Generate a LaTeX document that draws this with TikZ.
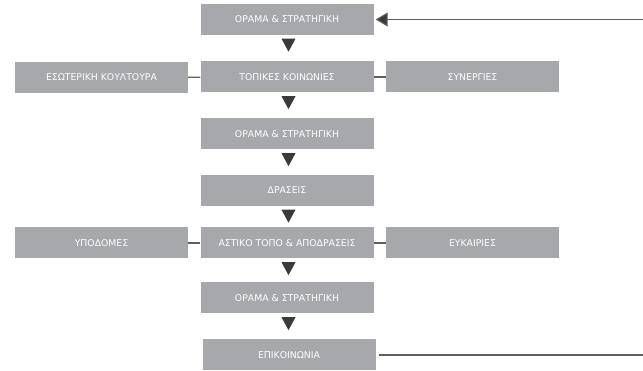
\documentclass[tikz,border=0pt]{standalone}
\usepackage{fontspec}
\setmainfont{DejaVu Sans}
\usetikzlibrary{calc,arrows.meta}
\definecolor{boxgray}{RGB}{167,168,171}
\definecolor{tridark}{RGB}{58,58,60}
\definecolor{linegray}{RGB}{95,95,98}
\tikzset{
  stage/.style={fill=boxgray, text=white, minimum width=173pt, minimum height=31pt,
    inner sep=0pt, font=\fontsize{9.3}{10}\selectfont},
  link/.style={draw=linegray, line width=1.1pt},
  downtri/.style={fill=tridark},
}
\newcommand{\downarrowmark}[1]{%
  \fill[downtri] ($(#1.south)+(-5.5,3.5)$) -- ++(14,0) -- ++(-7,13) -- cycle;}
\begin{document}
\begin{tikzpicture}[x=1pt,y=-1pt]
  \useasboundingbox (0,0) rectangle (643,371);
  % central chain
  \node[stage] (vision1) at (287,19.5) {ΟΡΑΜΑ \& ΣΤΡΑΤΗΓΙΚΗ};
  \node[stage] (local) at (287,77) {ΤΟΠΙΚΕΣ ΚΟΙΝΩΝΙΕΣ};
  \node[stage] (vision2) at (287,134) {ΟΡΑΜΑ \& ΣΤΡΑΤΗΓΙΚΗ};
  \node[stage] (actions) at (287,190.5) {ΔΡΑΣΕΙΣ};
  \node[stage] (urban) at (287,243) {ΑΣΤΙΚΟ ΤΟΠΟ \& ΑΠΟΔΡΑΣΕΙΣ};
  \node[stage] (vision3) at (287,298) {ΟΡΑΜΑ \& ΣΤΡΑΤΗΓΙΚΗ};
  \node[stage] (comm) at (289,355) {ΕΠΙΚΟΙΝΩΝΙΑ};
  % side boxes
  \node[stage] (culture) at (101.5,77.5) {ΕΣΩΤΕΡΙΚΗ ΚΟΥΛΤΟΥΡΑ};
  \node[stage] (synergy) at (472.5,77) {ΣΥΝΕΡΓΙΕΣ};
  \node[stage] (infra) at (101.5,243) {ΥΠΟΔΟΜΕΣ};
  \node[stage] (chance) at (472.5,243) {ΕΥΚΑΙΡΙΕΣ};
  % side links
  \draw[link] (culture) -- (local);
  \draw[link] (local) -- (synergy);
  \draw[link] (infra) -- (urban);
  \draw[link] (urban) -- (chance);
  % flow markers
  \downarrowmark{vision1}
  \downarrowmark{local}
  \downarrowmark{vision2}
  \downarrowmark{actions}
  \downarrowmark{urban}
  \downarrowmark{vision3}
  % feedback loop
  \coordinate (loopin) at (643,19.5);
  \coordinate (loopout) at (643,355);
  \draw[link, -{Triangle[length=12pt,width=14pt,fill=tridark]}, shorten >=2pt] (loopin) -- (vision1);
  \draw[link, shorten <=3pt] (comm) -- (loopout);
\end{tikzpicture}
\end{document}
